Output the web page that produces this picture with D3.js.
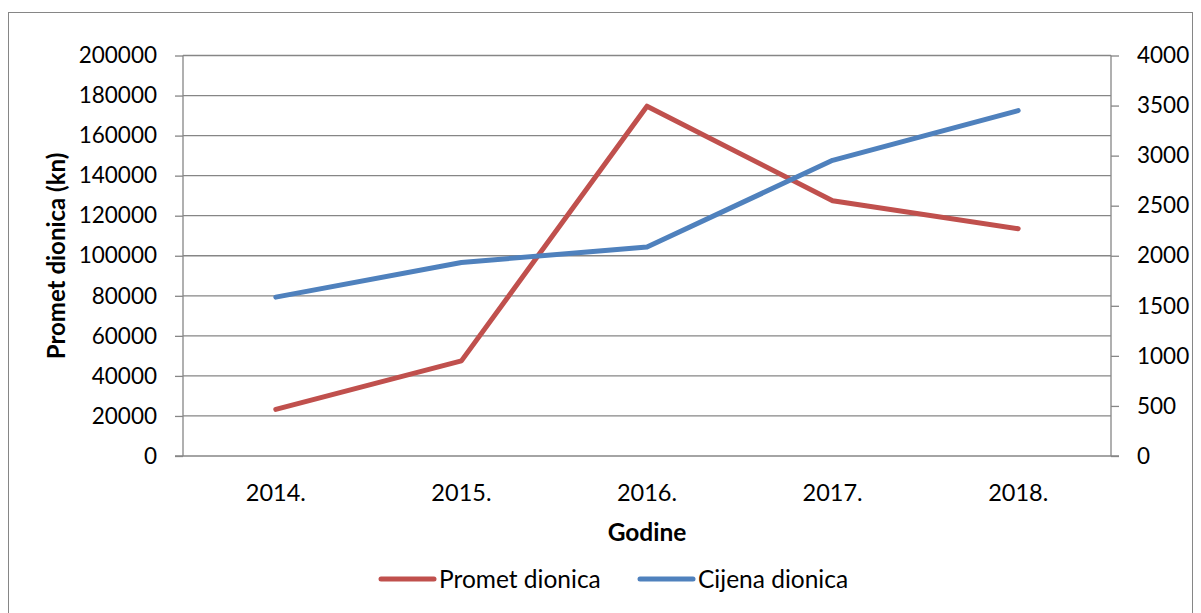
<!DOCTYPE html>
<html><head><meta charset="utf-8">
<script src="https://cdn.jsdelivr.net/npm/d3@7"></script>
<style>
html,body{margin:0;padding:0;background:#fff;}
svg{display:block;font-family:Lato,"Open Sans",sans-serif;}
</style></head>
<body>
<svg id="chart" width="1201" height="613"></svg>
<script>
const categories = ["2014.", "2015.", "2016.", "2017.", "2018."];
const prometValues = [23300, 47500, 174700, 127500, 113500];
const cijenaValues = [1587, 1933, 2087, 2953, 3450];
const leftTicks = [0, 20000, 40000, 60000, 80000, 100000, 120000, 140000, 160000, 180000, 200000];
const rightTicks = [0, 500, 1000, 1500, 2000, 2500, 3000, 3500, 4000];
const seriesNames = ["Promet dionica", "Cijena dionica"];
const colors = ["#c0504d", "#4f81bd"];

const svg = d3.select("#chart");
const L = 183, R = 1111, T = 55.5, B = 456;

// outer border
svg.append("rect").attr("x", 8.5).attr("y", 12.5).attr("width", 1184).attr("height", 640)
  .attr("fill", "none").attr("stroke", "#868686").attr("stroke-width", 1);

const x = d3.scaleBand().domain(categories).range([L, R]).padding(0);
const yL = d3.scaleLinear().domain([0, 200000]).range([B, T]);
const yR = d3.scaleLinear().domain([0, 4000]).range([B, T]);

// gridlines
svg.append("g").selectAll("line").data(leftTicks.filter(d => d > 0)).join("line")
  .attr("x1", L).attr("x2", R).attr("y1", d => yL(d)).attr("y2", d => yL(d))
  .attr("stroke", "#868686").attr("stroke-width", 1.3);

// left axis
const gl = svg.append("g").attr("transform", `translate(${L},0)`)
  .call(d3.axisLeft(yL).tickValues(leftTicks).tickSize(8).tickPadding(18).tickFormat(d => String(d)));
gl.select(".domain").attr("stroke", "#868686").attr("stroke-width", 1.3).attr("d", `M0,${B}V${T}`);
gl.selectAll(".tick line").attr("stroke", "#868686").attr("stroke-width", 1.3);
gl.selectAll(".tick text").attr("font-size", 22.5).attr("fill", "#000").attr("font-family", "Lato,sans-serif");

// right axis
const gr = svg.append("g").attr("transform", `translate(${R},0)`)
  .call(d3.axisRight(yR).tickValues(rightTicks).tickSize(8).tickPadding(18).tickFormat(d => String(d)));
gr.select(".domain").attr("stroke", "#868686").attr("stroke-width", 1.3).attr("d", `M0,${B}V${T}`);
gr.selectAll(".tick line").attr("stroke", "#868686").attr("stroke-width", 1.3);
gr.selectAll(".tick text").attr("font-size", 22.5).attr("fill", "#000").attr("font-family", "Lato,sans-serif");

// bottom axis
const gb = svg.append("g").attr("transform", `translate(0,${B})`)
  .call(d3.axisBottom(x).tickSize(0).tickPadding(28));
gb.select(".domain").attr("stroke", "#868686").attr("stroke-width", 1.3).attr("d", `M${L - 8},0H${R + 8}`);
gb.selectAll(".tick text").attr("font-size", 23.5).attr("fill", "#000").attr("font-family", "Lato,sans-serif");

// lines
const cx = d => x(d) + x.bandwidth() / 2;
const lineL = d3.line().x((d, i) => cx(categories[i])).y(d => yL(d));
const lineR = d3.line().x((d, i) => cx(categories[i])).y(d => yR(d));
svg.append("path").attr("d", lineL(prometValues)).attr("fill", "none")
  .attr("stroke", colors[0]).attr("stroke-width", 5).attr("stroke-linecap", "round").attr("stroke-linejoin", "round");
svg.append("path").attr("d", lineR(cijenaValues)).attr("fill", "none")
  .attr("stroke", colors[1]).attr("stroke-width", 5).attr("stroke-linecap", "round").attr("stroke-linejoin", "round");

// axis titles
svg.append("text").attr("x", 647).attr("y", 541).attr("text-anchor", "middle")
  .attr("font-size", 24.5).attr("font-weight", "bold").text("Godine");
svg.append("text").attr("transform", "translate(65,256) rotate(-90)").attr("text-anchor", "middle")
  .attr("font-size", 24).attr("font-weight", "bold").text("Promet dionica (kn)");

// legend
const legX = [381, 640];
seriesNames.forEach((n, i) => {
  svg.append("line").attr("x1", legX[i]).attr("x2", legX[i] + 53).attr("y1", 579).attr("y2", 579)
    .attr("stroke", colors[i]).attr("stroke-width", 5).attr("stroke-linecap", "round");
  svg.append("text").attr("x", legX[i] + 58).attr("y", 588).attr("font-size", 24.5).text(n);
});
</script>
</body></html>
